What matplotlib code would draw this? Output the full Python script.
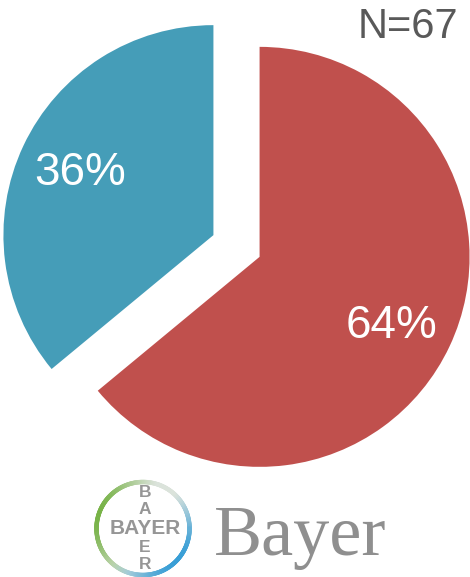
import numpy as np
import matplotlib
matplotlib.use("Agg")
import matplotlib.pyplot as plt
from matplotlib.collections import LineCollection

# Share of respondents
shares = [64, 36]
share_labels = ["64%", "36%"]
sample_label = "N=67"
brand = "Bayer"
cross_word = "BAYER"
slice_colors = ["#C0504D", "#459DB8"]

W, H = 470, 577
plt.rcParams["font.family"] = ["Liberation Sans", "DejaVu Sans"]
fig = plt.figure(figsize=(W / 100, H / 100), dpi=100)
ax = fig.add_axes([0, 0, 1, 1])

# Explode offset is in data units here, since the axes run in pixels
ax.pie(shares, colors=slice_colors, startangle=90, counterclock=False,
       explode=[25.5, 25.5], radius=210, center=(236.5, H - 246),
       wedgeprops={"linewidth": 0})
ax.set_xlim(0, W)
ax.set_ylim(0, H)
ax.set_aspect("equal")
ax.axis("off")

ax.text(391, H - 326, share_labels[0], color="white", fontsize=33, ha="center", va="center")
ax.text(80.5, H - 173, share_labels[1], color="white", fontsize=33, ha="center", va="center")
ax.text(408, H - 27, sample_label, color="#595959", fontsize=30, ha="center", va="center")

# Logo ring: green upper left, blue lower right, pale grey between
cx, cy, ring_r = 143, H - 528.5, 46.5
theta = np.linspace(0, 2 * np.pi, 361)
pts = np.column_stack([cx + ring_r * np.cos(theta), cy + ring_r * np.sin(theta)])
segs = np.stack([pts[:-1], pts[1:]], axis=1)
mid = (theta[:-1] + theta[1:]) / 2
pale = np.array([0.86, 0.89, 0.86])
green = np.array([0.47, 0.70, 0.28])
blue = np.array([0.22, 0.62, 0.84])
w_green = np.clip(np.cos(mid - np.radians(165)), 0, 1)[:, None] ** 1.2
w_blue = np.clip(np.cos(mid + np.radians(40)), 0, 1)[:, None] ** 1.2
seg_colors = pale * (1 - w_green - w_blue) + green * w_green + blue * w_blue
ax.add_collection(LineCollection(segs, colors=seg_colors, linewidths=3.2, capstyle="round"))

# Cross of letters sharing the central Y
letter_color = "#969696"
ax.text(145, cy, cross_word, color=letter_color, fontsize=15, fontweight="bold",
        ha="center", va="center")
column_offsets = [36, 19.5, None, -19.5, -36]
for ch, offset in zip(cross_word, column_offsets):
    if offset is not None:
        ax.text(145, cy + offset, ch, color=letter_color, fontsize=12.5, fontweight="bold",
                ha="center", va="center")

ax.text(214, H - 555, brand, color="#8F8F8F", fontsize=52, family="Liberation Serif",
        ha="left", va="baseline")

fig.savefig("out.png", dpi=100)
